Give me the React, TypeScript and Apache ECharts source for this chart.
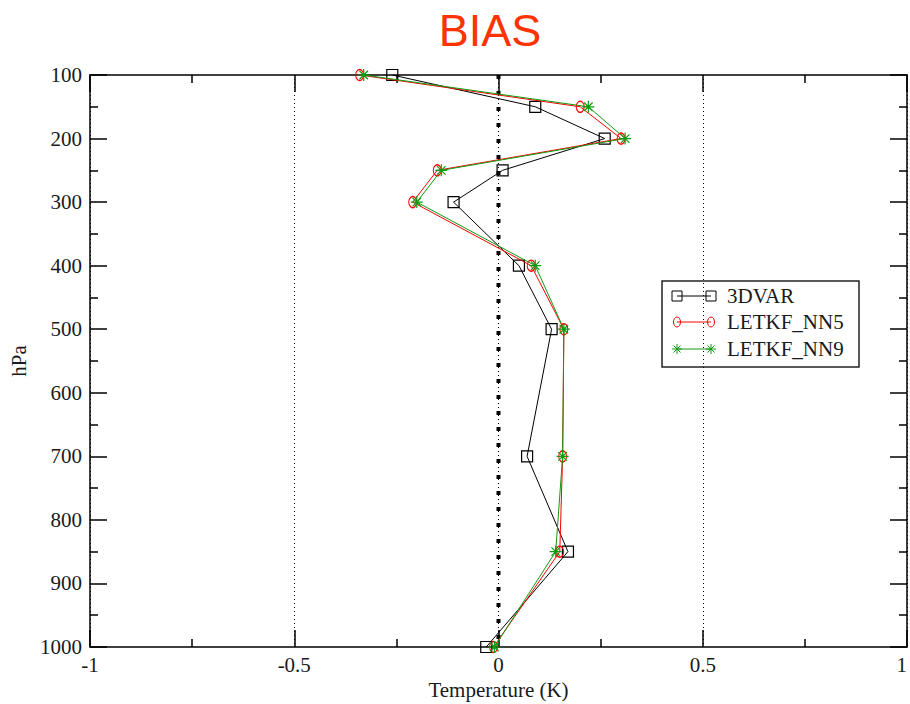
import React, { useEffect, useRef } from "react";
import * as echarts from "echarts";

const levels = [100, 150, 200, 250, 300, 400, 500, 700, 850, 1000];
const bias3dvar = [-0.26, 0.09, 0.26, 0.01, -0.11, 0.05, 0.13, 0.07, 0.17, -0.03];
const biasNN5 = [-0.34, 0.2, 0.3, -0.15, -0.21, 0.08, 0.16, 0.157, 0.15, -0.012];
const biasNN9 = [-0.33, 0.22, 0.31, -0.14, -0.2, 0.09, 0.16, 0.157, 0.14, -0.01];
const seriesNames = ["3DVAR", "LETKF_NN5", "LETKF_NN9"];
const xTicks = { min: -1, max: 1, interval: 0.5 };
const yTicks = { min: 100, max: 1000, interval: 100 };

const SERIF = "Liberation Serif";
const BLACK = "#000000";
const RED = "#ff0000";
const GREEN = "#109a10";
const STAR = "path://M5,0L5,10M0,5L10,5M1.46,1.46L8.54,8.54M1.46,8.54L8.54,1.46";

const pairs = (vals: number[]) => vals.map((v, i) => [v, levels[i]]);

function starGroup(cx: number, cy: number, r: number, color: string) {
  const d = r * 0.7071;
  const seg = (x1: number, y1: number, x2: number, y2: number) => ({
    type: "line",
    shape: { x1, y1, x2, y2 },
    style: { stroke: color, lineWidth: 1 },
  });
  return {
    type: "group",
    children: [
      seg(cx, cy - r, cx, cy + r),
      seg(cx - r, cy, cx + r, cy),
      seg(cx - d, cy - d, cx + d, cy + d),
      seg(cx - d, cy + d, cx + d, cy - d),
    ],
  };
}

function legendGraphic() {
  const x0 = 662, y0 = 281, w = 197, h = 86;
  const rows = [296, 322, 349];
  const lx1 = 677, lx2 = 711, tx = 727;
  const colors = [BLACK, RED, GREEN];
  const children: any[] = [
    {
      type: "rect",
      shape: { x: x0, y: y0, width: w, height: h },
      style: { fill: "#ffffff", stroke: "#222", lineWidth: 1.5 },
    },
  ];
  rows.forEach((y, i) => {
    const c = colors[i];
    children.push({
      type: "line",
      shape: { x1: lx1, y1: y, x2: lx2, y2: y },
      style: { stroke: c, lineWidth: 1 },
    });
    [lx1, lx2].forEach((x) => {
      if (i === 0) {
        children.push({
          type: "rect",
          shape: { x: x - 5, y: y - 5, width: 10, height: 10 },
          style: { fill: "rgba(0,0,0,0)", stroke: c, lineWidth: 1 },
        });
      } else if (i === 1) {
        children.push({
          type: "ellipse",
          shape: { cx: x, cy: y, rx: 3.5, ry: 5 },
          style: { fill: "rgba(0,0,0,0)", stroke: c, lineWidth: 1 },
        });
      } else {
        children.push(starGroup(x, y, 5, c));
      }
    });
    children.push({
      type: "text",
      x: tx,
      y: y,
      style: {
        text: seriesNames[i],
        font: `21px "${SERIF}"`,
        fill: "#1a1a1a",
        textVerticalAlign: "middle",
        textAlign: "left",
      },
    });
  });
  return { type: "group", z: 100, children };
}

export default function App() {
  const ref = useRef<HTMLDivElement>(null);
  useEffect(() => {
    if (!ref.current) return;
    const chart = echarts.init(ref.current, undefined, { renderer: "svg" });
    const axisLine = { show: true, onZero: false, lineStyle: { color: BLACK, width: 1.5 } };
    const axisTick = { show: true, inside: true, length: 17, lineStyle: { color: BLACK, width: 1.5 } };
    const minorTick = { show: true, splitNumber: 2, length: 8, lineStyle: { color: BLACK, width: 1.5 } };
    const labelStyle = { fontFamily: SERIF, fontSize: 21, color: "#1a1a1a" };
    const fmt = (v: number) => String(v);
    chart.setOption({
      animation: false,
      backgroundColor: "#ffffff",
      title: {
        text: "BIAS",
        left: 490,
        top: 8,
        padding: 0,
        textAlign: "center",
        textStyle: { fontFamily: "Liberation Sans", fontSize: 45, fontWeight: "normal", color: "#ff3300" },
      },
      grid: { left: 90, right: 3, top: 75, bottom: 57, containLabel: false, outerBoundsMode: "none" },
      xAxis: [
        {
          type: "value",
          position: "bottom",
          ...xTicks,
          axisLine,
          axisTick,
          minorTick,
          axisLabel: { ...labelStyle, margin: 7, formatter: fmt, alignMaxLabel: "right" },
          splitLine: { show: true, lineStyle: { color: BLACK, width: 1, type: [1, 3] } },
          name: "Temperature (K)",
          nameLocation: "middle",
          nameGap: 29,
          nameTextStyle: labelStyle,
        },
        {
          type: "value",
          position: "top",
          ...xTicks,
          axisLine,
          axisTick,
          minorTick,
          axisLabel: { show: false },
          splitLine: { show: false },
        },
      ],
      yAxis: [
        {
          type: "value",
          position: "left",
          inverse: true,
          ...yTicks,
          axisLine,
          axisTick,
          minorTick,
          axisLabel: { ...labelStyle, margin: 8, formatter: fmt },
          splitLine: { show: false },
          name: "hPa",
          nameLocation: "middle",
          nameRotate: 90,
          nameGap: 55,
          nameTextStyle: labelStyle,
        },
        {
          type: "value",
          position: "right",
          inverse: true,
          ...yTicks,
          axisLine,
          axisTick,
          minorTick,
          axisLabel: { show: false },
          splitLine: { show: false },
        },
      ],
      series: [
        {
          type: "line",
          name: "zero",
          silent: true,
          data: [[0, yTicks.min], [0, yTicks.max]],
          symbol: "none",
          lineStyle: { color: BLACK, width: 4, type: [4, 12] },
          z: 1,
        },
        {
          type: "line",
          name: seriesNames[0],
          data: pairs(bias3dvar),
          symbol: "rect",
          symbolSize: 11,
          lineStyle: { color: BLACK, width: 1 },
          itemStyle: { color: "rgba(0,0,0,0)", borderColor: BLACK, borderWidth: 1.2 },
          z: 3,
        },
        {
          type: "line",
          name: seriesNames[1],
          data: pairs(biasNN5),
          symbol: "circle",
          symbolSize: [8, 11],
          lineStyle: { color: RED, width: 1 },
          itemStyle: { color: "rgba(0,0,0,0)", borderColor: RED, borderWidth: 1.2 },
          z: 4,
        },
        {
          type: "line",
          name: seriesNames[2],
          data: pairs(biasNN9),
          symbol: STAR,
          symbolSize: 12,
          lineStyle: { color: GREEN, width: 1 },
          itemStyle: { color: "rgba(0,0,0,0)", borderColor: GREEN, borderWidth: 1.2 },
          z: 5,
        },
      ],
      graphic: [legendGraphic()],
    });
    return () => chart.dispose();
  }, []);
  return (
    <div
      ref={ref}
      style={{ position: "absolute", left: 0, top: 0, width: 910, height: 704, background: "#fff" }}
    />
  );
}
